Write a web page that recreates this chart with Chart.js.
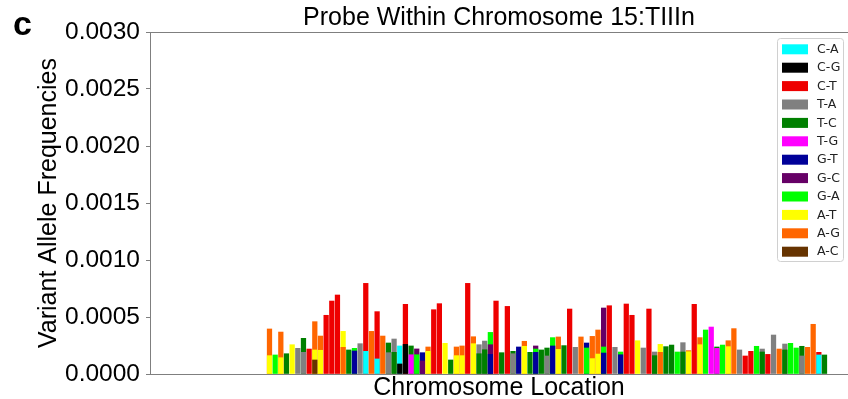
<!DOCTYPE html>
<html lang="en">
<head>
<meta charset="UTF-8">
<title>Probe Within Chromosome 15:TIIIn</title>
<script src="https://cdn.jsdelivr.net/npm/chart.js"></script>
<style>
    body { margin: 0; background: #fff; }
    #wrap { width: 848px; height: 399px; }
</style>
</head>
<body>
<div id="wrap"><canvas id="chart" width="848" height="399"></canvas></div>
<script>
// frequencies are written in units of 1e-4, as [slot, value] pairs
const UNIT = 1e-4;
const variants = ['C-A', 'C-G', 'C-T', 'T-A', 'T-C', 'T-G', 'G-T', 'G-C', 'G-A', 'A-T', 'A-G', 'A-C'];
const colors = ['#00ffff', '#000000', '#ee0000', '#808080', '#008000', '#ff00ff',
                '#000099', '#660066', '#00ff00', '#ffff00', '#ff6600', '#663300'];

const cA = [[17, 1.99], [19, 1.32], [23, 2.46], [97, 1.67]];
const cG = [[23, 0.88], [24, 2.6]];
const cT = [[7, 2.19], [10, 5.15], [11, 6.4], [12, 6.93], [17, 7.95], [19, 5.47], [24, 6.11], [29, 5.64],
            [30, 6.17], [35, 7.95], [40, 6.4], [42, 5.93], [53, 5.7], [60, 5.99], [63, 6.14], [64, 5.15],
            [67, 5.7], [75, 6.11], [84, 1.58], [85, 1.99], [88, 1.72], [97, 1.9]];
const tA = [[5, 2.25], [6, 1.9], [16, 2.66], [21, 1.87], [22, 3.07], [37, 2.57], [38, 2.89], [43, 1.78],
            [49, 1.58], [54, 2.34], [61, 2.34], [66, 2.28], [68, 1.93], [73, 2.75], [83, 2.11], [87, 2.19],
            [89, 3.42], [91, 2.63], [94, 1.58]];
const tC = [[3, 1.78], [6, 3.13], [14, 2.11], [21, 2.72], [22, 1.9], [25, 2.46], [32, 1.23], [37, 1.78],
            [38, 2.13], [41, 1.87], [43, 1.99], [46, 1.9], [48, 2.11], [49, 2.28], [52, 2.49], [68, 1.61],
            [70, 2.4], [71, 2.54], [73, 1.93], [79, 2.37], [87, 1.93], [91, 2.11], [94, 2.43], [98, 1.67]];
const tG = [[25, 1.69], [78, 4.12], [79, 2.25]];
const gT = [[15, 2.02], [27, 1.87], [39, 1.72], [44, 2.37], [47, 1.9], [50, 2.46], [56, 2.72], [59, 1.84],
            [62, 1.69]];
const gC = [[26, 2.2], [27, 1.14], [39, 2.57], [47, 2.46], [59, 5.79]];
const gA = [[1, 1.67], [15, 2.25], [26, 1.69], [39, 3.65], [47, 2.19], [50, 3.19], [56, 2.28], [59, 2.37],
            [62, 1.93], [72, 1.93], [77, 3.86], [80, 2.54], [86, 2.43], [92, 2.69], [93, 2.28]];
const aT = [[0, 1.61], [2, 1.43], [4, 2.57], [8, 2.11], [9, 2.08], [13, 3.74], [28, 1.99], [31, 2.69],
            [33, 1.61], [34, 1.61], [36, 2.66], [45, 2.43], [51, 2.16], [57, 1.35], [58, 1.75], [65, 2.92],
            [69, 2.6], [74, 1.96], [76, 2.57], [81, 2.4]];
const aG = [[0, 3.95], [2, 3.68], [8, 4.59], [9, 3.33], [13, 2.34], [18, 3.74], [20, 3.33], [28, 2.37],
            [33, 2.37], [34, 2.46], [36, 3.27], [45, 2.87], [51, 3.25], [55, 3.25], [57, 3.3], [58, 3.86],
            [69, 1.9], [74, 2.05], [76, 3.19], [81, 2.92], [82, 3.98], [90, 2.19], [95, 2.34], [96, 4.36]];
const aC = [[8, 1.23]];
const series = [cA, cG, cT, tA, tC, tG, gT, gC, gA, aT, aG, aC];

const yTicks = [0, 0.0005, 0.001, 0.0015, 0.002, 0.0025, 0.003];

// bars at one slot overlap: tallest in the back, shortest in front
let slots = {};
series.forEach((pts, k) => {
    pts.forEach(([slot, v]) => {
        (slots[slot] = slots[slot] || []).push({ v: v, color: colors[k] });
    });
});
let layers = [];
Object.keys(slots).forEach(slot => {
    slots[slot].sort((a, b) => b.v - a.v).forEach((p, i) => {
        if (!layers[i]) layers[i] = { data: [], bg: [] };
        layers[i].data.push({ x: +slot, y: p.v * UNIT });
        layers[i].bg.push(p.color);
    });
});
let datasets = layers.map((l, i) => ({
    label: 'layer ' + i,
    data: l.data,
    backgroundColor: l.bg,
    barThickness: 4.6,
    grouped: false,
    order: -i
}));

const axisGray = '#7f7f7f';

// "c" panel letter, top spine and boxed legend
const extras = {
    id: 'extras',
    afterDraw(chart) {
        const ctx = chart.ctx;
        const a = chart.chartArea;
        ctx.save();
        ctx.strokeStyle = axisGray;
        ctx.lineWidth = 1;
        ctx.beginPath();
        ctx.moveTo(a.left, a.top + 0.5);
        ctx.lineTo(a.right, a.top + 0.5);
        ctx.stroke();

        ctx.fillStyle = '#000';
        ctx.font = 'bold 34px "Liberation Sans", Arial, sans-serif';
        ctx.textBaseline = 'alphabetic';
        ctx.fillText('c', 13, 35);

        // legend
        const bx = 777.5, by = 38.5, bw = 66, bh = 223;
        ctx.fillStyle = 'rgba(255,255,255,0.85)';
        ctx.strokeStyle = '#d0d0d0';
        ctx.beginPath();
        ctx.roundRect(bx, by, bw, bh, 3);
        ctx.fill();
        ctx.stroke();
        ctx.font = '12.5px "DejaVu Sans", sans-serif';
        ctx.textBaseline = 'middle';
        variants.forEach((name, i) => {
            const cy = 49.3 + 18.4 * i;
            ctx.fillStyle = colors[i];
            ctx.fillRect(782, cy - 5, 26, 10);
            ctx.fillStyle = '#222';
            ctx.fillText(name, 817, cy + 0.5);
        });
        ctx.restore();
    }
};

new Chart(document.getElementById('chart'), {
    type: 'bar',
    data: { datasets: datasets },
    options: {
        responsive: false,
        animation: false,
        devicePixelRatio: 1,
        layout: { padding: { top: 0, right: 0, bottom: 0, left: 0 } },
        font: { family: '"Liberation Sans", Arial, sans-serif' },
        plugins: {
            legend: { display: false },
            tooltip: { enabled: false },
            title: {
                display: true,
                text: 'Probe Within Chromosome 15:TIIIn',
                color: '#000',
                fullSize: false,
                font: { family: '"Liberation Sans", Arial, sans-serif', size: 25, weight: 'normal', lineHeight: 1 },
                padding: { top: 6, bottom: 1 }
            }
        },
        scales: {
            x: {
                type: 'linear',
                min: -21.1,
                max: 102.15,
                offset: false,
                grid: { display: false },
                border: { display: true, color: axisGray, width: 1 },
                ticks: { display: false },
                title: {
                    display: true,
                    text: 'Chromosome Location',
                    color: '#000',
                    font: { family: '"Liberation Sans", Arial, sans-serif', size: 25, lineHeight: 0.88 },
                    padding: { top: 0, bottom: 0 }
                },
                afterFit(s) { s.height = 25; }
            },
            y: {
                min: 0,
                max: 0.003,
                afterBuildTicks(s) { s.ticks = yTicks.map(v => ({ value: v })); },
                grid: { drawOnChartArea: false, drawTicks: true, tickLength: 4, color: axisGray },
                border: { display: true, color: axisGray, width: 1 },
                ticks: {
                    color: '#000',
                    padding: 6,
                    font: { family: '"Liberation Sans", Arial, sans-serif', size: 24.5 },
                    callback: v => v.toFixed(4)
                },
                title: {
                    display: true,
                    text: 'Variant Allele Frequencies',
                    color: '#000',
                    font: { family: '"Liberation Sans", Arial, sans-serif', size: 25, lineHeight: 1.2 },
                    padding: { top: 34, bottom: 0 }
                },
                afterFit(s) { s.width = 150; }
            }
        }
    },
    plugins: [extras]
});
</script>
</body>
</html>
